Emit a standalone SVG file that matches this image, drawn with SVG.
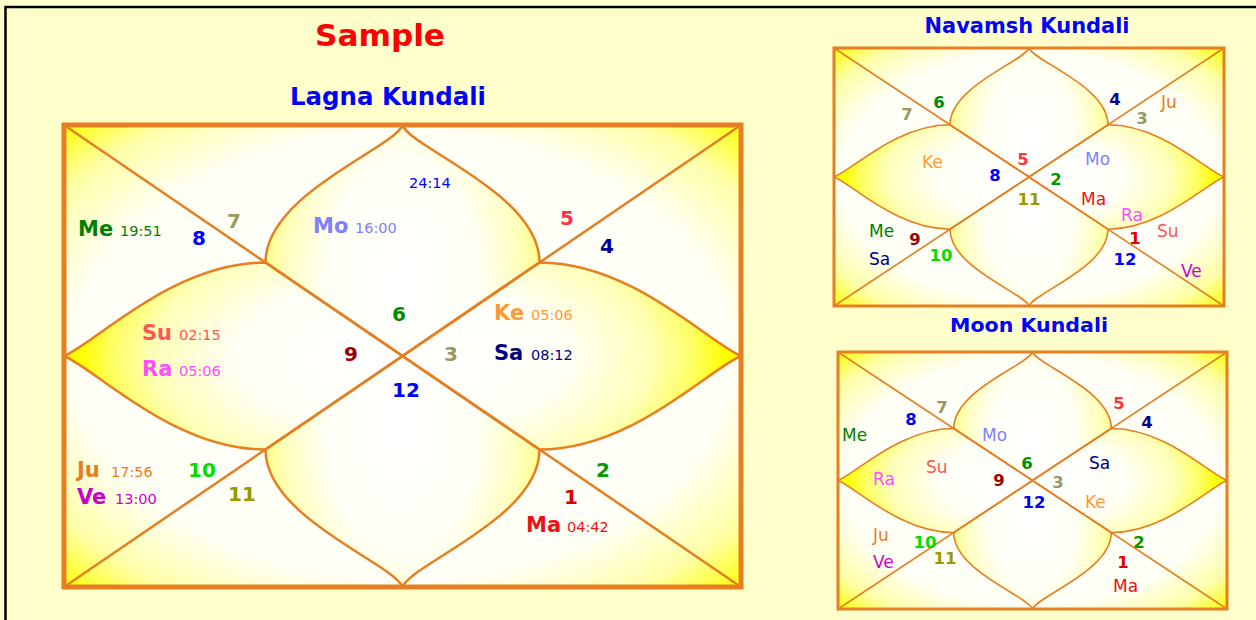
<svg xmlns="http://www.w3.org/2000/svg" width="1256" height="620" viewBox="0 0 1256 620">
<defs>
<radialGradient id="gBg" cx="0.5" cy="0.5" r="0.71">
<stop offset="0" stop-color="#FFFFFF"/><stop offset="0.68" stop-color="#FFFFF6"/><stop offset="0.86" stop-color="#FFFFA8"/><stop offset="1" stop-color="#FFFF00"/>
</radialGradient>
<radialGradient id="gL" cx="0.9" cy="0.5" r="0.85">
<stop offset="0" stop-color="#FFFFFF"/><stop offset="0.45" stop-color="#FFFFF6"/><stop offset="0.75" stop-color="#FFFFB8"/><stop offset="0.9" stop-color="#FFFF60"/><stop offset="1" stop-color="#FFFF00"/>
</radialGradient>
<radialGradient id="gR" cx="0.1" cy="0.5" r="0.85">
<stop offset="0" stop-color="#FFFFFF"/><stop offset="0.45" stop-color="#FFFFF6"/><stop offset="0.75" stop-color="#FFFFB8"/><stop offset="0.9" stop-color="#FFFF60"/><stop offset="1" stop-color="#FFFF00"/>
</radialGradient>
<radialGradient id="gT" cx="0.5" cy="0.7" r="0.5" gradientTransform="translate(0.5 0.7) scale(1 2) translate(-0.5 -0.7)">
<stop offset="0" stop-color="#FFFFFF"/><stop offset="0.55" stop-color="#FFFFF6"/><stop offset="0.85" stop-color="#FFFFC0"/><stop offset="1" stop-color="#FFFF90"/>
</radialGradient>
<radialGradient id="gB" cx="0.5" cy="0.3" r="0.5" gradientTransform="translate(0.5 0.3) scale(1 2) translate(-0.5 -0.3)">
<stop offset="0" stop-color="#FFFFFF"/><stop offset="0.55" stop-color="#FFFFF6"/><stop offset="0.85" stop-color="#FFFFC0"/><stop offset="1" stop-color="#FFFF90"/>
</radialGradient>
</defs>
<style>
text{font-family:"DejaVu Sans","Verdana",sans-serif}
.ttl{font-weight:bold;fill:#0000FF}
.pl{font-weight:bold;font-size:21px}
.tm{font-size:14.5px}
.n{font-weight:bold;font-size:20px;text-anchor:middle}
.sp{font-size:17px}
.sn{font-weight:bold;font-size:16.5px;text-anchor:middle}
.ln{fill:none;stroke:#E67E22;stroke-width:2.5;stroke-linejoin:round}
.lns{fill:none;stroke:#E67E22;stroke-width:1.6;stroke-linejoin:round}
.pt{stroke:#E67E22;stroke-width:2.5;stroke-linejoin:round}
.pts{stroke:#E67E22;stroke-width:1.6;stroke-linejoin:round}
.me{fill:#008000}.mo{fill:#8080FF}.su{fill:#FF5555}.ra{fill:#FF4DFF}.ju{fill:#E87D1E}.ve{fill:#CC00CC}.ke{fill:#FF9933}.sa{fill:#000080}.ma{fill:#EE1111}.blue{fill:#0000FF}
.h1{fill:#DD0000}.h2{fill:#009900}.h3{fill:#999966}.h4{fill:#000099}.h5{fill:#FF3344}.h6{fill:#008C00}.h7{fill:#999966}.h8{fill:#0000FF}.h9{fill:#990000}.h10{fill:#00DD00}.h11{fill:#999900}.h12{fill:#0000FF}
</style>
<rect x="0" y="0" width="1256" height="620" fill="#FFFFCC"/>
<rect x="5.5" y="7" width="1270" height="630" fill="#FFFFCC" stroke="#000000" stroke-width="2.5"/>

<text x="380" y="46" font-size="30" font-weight="bold" fill="#FF0000" text-anchor="middle" textLength="130" lengthAdjust="spacingAndGlyphs">Sample</text>
<text class="ttl" x="388" y="105" font-size="24" text-anchor="middle" textLength="196" lengthAdjust="spacingAndGlyphs">Lagna Kundali</text>
<text class="ttl" x="1027" y="33" font-size="20.5" text-anchor="middle" textLength="205" lengthAdjust="spacingAndGlyphs">Navamsh Kundali</text>
<text class="ttl" x="1029" y="332" font-size="20" text-anchor="middle" textLength="158" lengthAdjust="spacingAndGlyphs">Moon Kundali</text>

<g id="lagna">
<rect x="64" y="125" width="677" height="462" fill="url(#gBg)"/>
<path class="pt" fill="url(#gT)" d="M 265.5 262.5 C 265.5 193.8, 394.3 148.4, 402.5 125 C 410.7 148.4, 539.5 193.8, 539.5 262.5 L 402.5 356 Z"/>
<path class="pt" fill="url(#gB)" d="M 265.5 449.5 C 265.5 518.2, 394.3 563.6, 402.5 587 C 410.7 563.6, 539.5 518.2, 539.5 449.5 L 402.5 356 Z"/>
<path class="pt" fill="url(#gL)" d="M 265.5 262.5 C 172.8 262.5, 96.2 342.9, 64 356 C 96.2 369.1, 172.8 449.5, 265.5 449.5 L 402.5 356 Z"/>
<path class="pt" fill="url(#gR)" d="M 539.5 262.5 C 632.2 262.5, 708.8 342.9, 741 356 C 708.8 369.1, 632.2 449.5, 539.5 449.5 L 402.5 356 Z"/>
<path class="ln" d="M 64 125 L 741 587 M 741 125 L 64 587"/>
<rect x="64" y="125" width="677" height="462" fill="none" stroke="#E67E22" stroke-width="5"/>
<g id="lagna-labels">
<text class="pl me" x="78" y="236">Me</text><text class="tm me" x="120" y="236">19:51</text>
<text class="n h8" x="199" y="245">8</text>
<text class="n h7" x="234" y="228">7</text>
<text class="pl mo" x="313" y="233">Mo</text><text class="tm mo" x="355" y="233">16:00</text>
<text class="tm blue" x="409" y="188">24:14</text>
<text class="n h5" x="567" y="225">5</text>
<text class="n h4" x="607" y="253">4</text>
<text class="n h6" x="399" y="321">6</text>
<text class="pl ke" x="494" y="320">Ke</text><text class="tm ke" x="531" y="320">05:06</text>
<text class="pl sa" x="494" y="360">Sa</text><text class="tm sa" x="531" y="360">08:12</text>
<text class="n h3" x="451" y="361">3</text>
<text class="n h9" x="351" y="361">9</text>
<text class="n h12" x="406" y="397">12</text>
<text class="pl su" x="142" y="340">Su</text><text class="tm su" x="179" y="340">02:15</text>
<text class="pl ra" x="142" y="376">Ra</text><text class="tm ra" x="179" y="376">05:06</text>
<text class="pl ju" x="77" y="477">Ju</text><text class="tm ju" x="111" y="477">17:56</text>
<text class="pl ve" x="77" y="504">Ve</text><text class="tm ve" x="115" y="504">13:00</text>
<text class="n h10" x="202" y="477">10</text>
<text class="n h11" x="242" y="501">11</text>
<text class="n h2" x="603" y="477">2</text>
<text class="n h1" x="571" y="504">1</text>
<text class="pl ma" x="526" y="532">Ma</text><text class="tm ma" x="567" y="532">04:42</text>
</g>
</g>

<g id="navamsh">
<rect x="834" y="48" width="390" height="258" fill="url(#gBg)"/>
<path class="pts" fill="url(#gT)" d="M 950 124.8 C 950 86.4, 1024.3 61.1, 1029 48 C 1033.7 61.1, 1108 86.4, 1108 124.8 L 1029 177 Z"/>
<path class="pts" fill="url(#gB)" d="M 950 229.2 C 950 267.6, 1024.3 292.9, 1029 306 C 1033.7 292.9, 1108 267.6, 1108 229.2 L 1029 177 Z"/>
<path class="pts" fill="url(#gL)" d="M 950 124.8 C 896.6 124.8, 852.6 169.7, 834 177 C 852.6 184.3, 896.6 229.2, 950 229.2 L 1029 177 Z"/>
<path class="pts" fill="url(#gR)" d="M 1108 124.8 C 1161.4 124.8, 1205.4 169.7, 1224 177 C 1205.4 184.3, 1161.4 229.2, 1108 229.2 L 1029 177 Z"/>
<path class="lns" d="M 834 48 L 1224 306 M 1224 48 L 834 306"/>
<rect x="834" y="48" width="390" height="258" fill="none" stroke="#E67E22" stroke-width="3"/>
<g id="navamsh-labels">
<text class="sn h6" x="939" y="108">6</text>
<text class="sn h7" x="907" y="120">7</text>
<text class="sn h4" x="1115" y="105">4</text>
<text class="sp ju" x="1161" y="108">Ju</text>
<text class="sn h3" x="1142" y="124">3</text>
<text class="sp ke" x="922" y="168">Ke</text>
<text class="sn h5" x="1023" y="165">5</text>
<text class="sp mo" x="1085" y="165">Mo</text>
<text class="sn h8" x="995" y="181">8</text>
<text class="sn h2" x="1056" y="185">2</text>
<text class="sn h11" x="1029" y="205">11</text>
<text class="sp ma" x="1081" y="205">Ma</text>
<text class="sp ra" x="1121" y="221">Ra</text>
<text class="sp su" x="1157" y="237">Su</text>
<text class="sn h1" x="1135" y="244">1</text>
<text class="sn h12" x="1125" y="265">12</text>
<text class="sp ve" x="1181" y="277">Ve</text>
<text class="sp me" x="869" y="237">Me</text>
<text class="sn h9" x="915" y="245">9</text>
<text class="sp sa" x="869" y="265">Sa</text>
<text class="sn h10" x="941" y="261">10</text>
</g>
</g>

<g id="moon">
<rect x="838" y="352" width="389" height="257" fill="url(#gBg)"/>
<path class="pts" fill="url(#gT)" d="M 953.7 428.5 C 953.7 390.3, 1027.8 365, 1032.5 352 C 1037.2 365, 1111.3 390.3, 1111.3 428.5 L 1032.5 480.5 Z"/>
<path class="pts" fill="url(#gB)" d="M 953.7 532.5 C 953.7 570.7, 1027.8 596, 1032.5 609 C 1037.2 596, 1111.3 570.7, 1111.3 532.5 L 1032.5 480.5 Z"/>
<path class="pts" fill="url(#gL)" d="M 953.7 428.5 C 900.5 428.5, 856.5 473.2, 838 480.5 C 856.5 487.8, 900.5 532.5, 953.7 532.5 L 1032.5 480.5 Z"/>
<path class="pts" fill="url(#gR)" d="M 1111.3 428.5 C 1164.5 428.5, 1208.5 473.2, 1227 480.5 C 1208.5 487.8, 1164.5 532.5, 1111.3 532.5 L 1032.5 480.5 Z"/>
<path class="lns" d="M 838 352 L 1227 609 M 1227 352 L 838 609"/>
<rect x="838" y="352" width="389" height="257" fill="none" stroke="#E67E22" stroke-width="3"/>
<g id="moon-labels">
<text class="sn h7" x="942" y="413">7</text>
<text class="sn h8" x="911" y="425">8</text>
<text class="sp me" x="842" y="441">Me</text>
<text class="sp mo" x="982" y="441">Mo</text>
<text class="sn h5" x="1119" y="409">5</text>
<text class="sn h4" x="1147" y="428">4</text>
<text class="sn h6" x="1027" y="469">6</text>
<text class="sp sa" x="1089" y="469">Sa</text>
<text class="sp su" x="926" y="473">Su</text>
<text class="sp ra" x="873" y="485">Ra</text>
<text class="sn h9" x="999" y="486">9</text>
<text class="sn h3" x="1058" y="488">3</text>
<text class="sn h12" x="1034" y="508">12</text>
<text class="sp ke" x="1085" y="508">Ke</text>
<text class="sp ju" x="873" y="541">Ju</text>
<text class="sn h10" x="925" y="548">10</text>
<text class="sn h2" x="1139" y="548">2</text>
<text class="sn h11" x="945" y="564">11</text>
<text class="sp ve" x="873" y="568">Ve</text>
<text class="sn h1" x="1123" y="568">1</text>
<text class="sp ma" x="1113" y="592">Ma</text>
</g>
</g>
</svg>
